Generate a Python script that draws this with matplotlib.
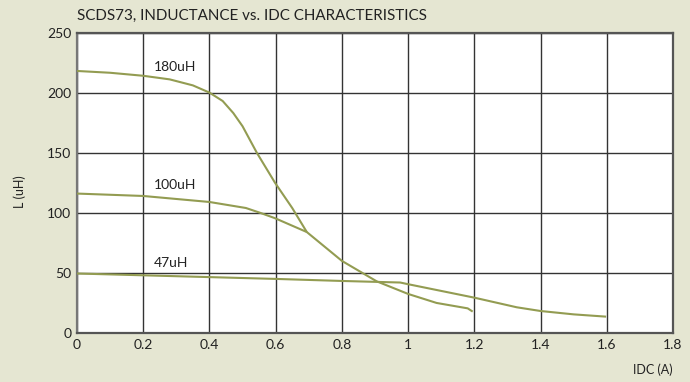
import matplotlib
matplotlib.use("Agg")
import matplotlib.pyplot as plt

plt.rcParams['font.family'] = ['Lato', 'DejaVu Sans']

# Inductance vs. DC current for each part value
idc_180 = [0.0, 0.1, 0.2, 0.28, 0.35, 0.4, 0.44, 0.472, 0.50, 0.543, 0.598, 0.65, 0.694]
l_180 = [218, 216.5, 214, 211, 206, 200, 193, 183, 172, 150, 125, 104, 84]

idc_100 = [0.0, 0.2, 0.4, 0.51, 0.553, 0.598, 0.694, 0.8, 0.905, 1.0, 1.086, 1.18, 1.195]
l_100 = [116, 114, 109, 104, 100, 95.5, 84, 60, 43, 32.5, 25, 20.5, 17.8]

idc_47 = [0.0, 0.2, 0.4, 0.6, 0.8, 0.976, 1.0, 1.1, 1.2, 1.328, 1.4, 1.5, 1.598]
l_47 = [49.5, 48, 46.5, 45, 43.3, 42, 40.6, 35, 29.4, 21.4, 18.3, 15.5, 13.6]

x_ticks = [0, 0.2, 0.4, 0.6, 0.8, 1.0, 1.2, 1.4, 1.6, 1.8]
x_tick_labels = ['0', '0.2', '0.4', '0.6', '0.8', '1', '1.2', '1.4', '1.6', '1.8']
y_ticks = [0, 50, 100, 150, 200, 250]

curve_labels = ['180uH', '100uH', '47uH']
label_pos = [(0.296, 221), (0.296, 123), (0.285, 58)]

bg = '#E5E6D2'
line_color = '#939C52'

fig = plt.figure(figsize=(6.9, 3.82), dpi=100, facecolor=bg)
ax = fig.add_axes([77 / 690, 1 - 333 / 382, (673 - 77) / 690, (333 - 32.5) / 382])
ax.set_facecolor('white')

for xs, ys in [(idc_180, l_180), (idc_100, l_100), (idc_47, l_47)]:
    ax.plot(xs, ys, color=line_color, lw=1.5, solid_capstyle='butt',
            solid_joinstyle='round', zorder=3)

for text, (tx, ty) in zip(curve_labels, label_pos):
    ax.text(tx, ty, text, fontsize=10, color='#222222', ha='center', va='center', zorder=4)

ax.set_xlim(0, 1.8)
ax.set_ylim(0, 250)
ax.set_xticks(x_ticks)
ax.set_xticklabels(x_tick_labels)
ax.set_yticks(y_ticks)
ax.grid(True, color='#333333', lw=1.0, zorder=1)
ax.set_axisbelow(True)
ax.tick_params(length=0, labelsize=10, colors='#222222', pad=4)

for side in ['top', 'right', 'bottom']:
    ax.spines[side].set_color('#555555')
    ax.spines[side].set_linewidth(1.6)
ax.spines['left'].set_color('#777777')
ax.spines['left'].set_linewidth(1.6)

fig.text(77 / 690, 1 - 16 / 382, 'SCDS73, INDUCTANCE vs. IDC CHARACTERISTICS',
         fontsize=10.9, color='#222222', ha='left', va='center')
fig.text(673 / 690, 1 - 370 / 382, 'IDC (A)', fontsize=9, color='#222222',
         ha='right', va='center')
fig.text(20 / 690, 1 - 192 / 382, 'L (uH)', fontsize=9, color='#222222',
         ha='center', va='center', rotation=90)

fig.savefig('out.png', dpi=100, facecolor=bg)
